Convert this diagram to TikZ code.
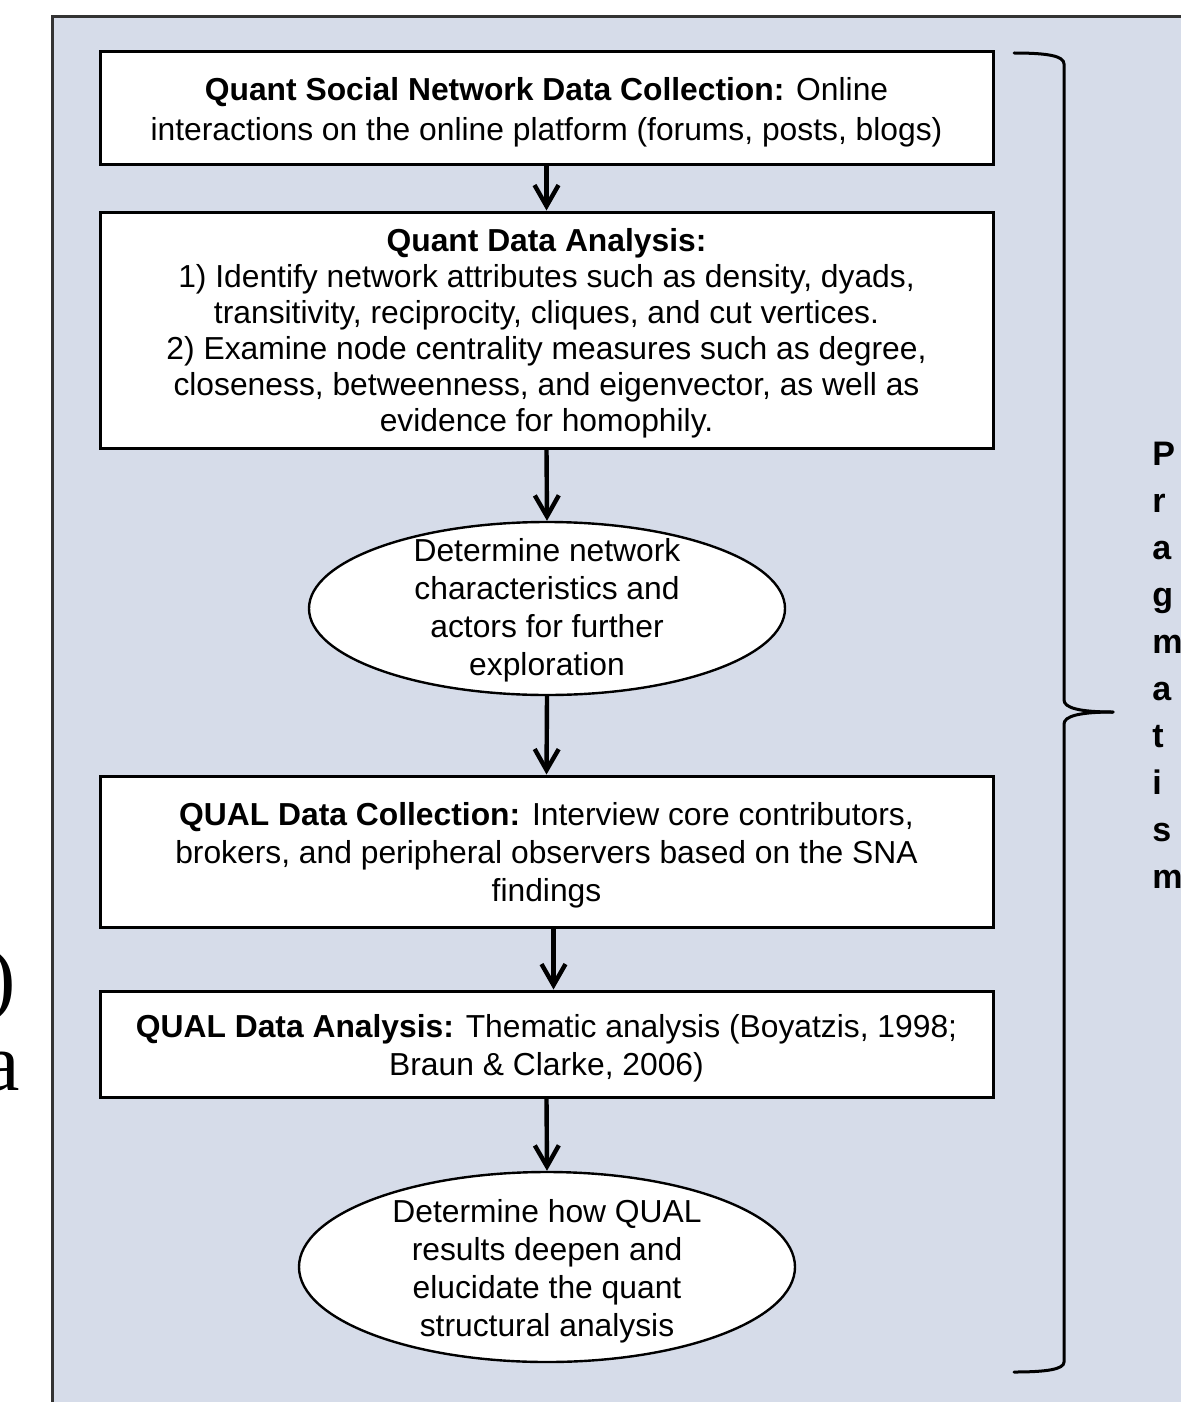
\documentclass[tikz,border=0pt]{standalone}
\usepackage{fontspec}
\setmainfont{Liberation Sans}
\newfontfamily\lserif{Liberation Serif}
\usetikzlibrary{shapes.geometric, arrows.meta}
\definecolor{panel}{RGB}{214,220,233}
\newcommand\ovaltext[2][-5.5pt]{\smash{\raisebox{#1}{\makebox[0pt]{\begin{tabular}{@{}c@{}}#2\end{tabular}}}}}
\newcommand\boxtext[1]{\smash{\raisebox{-6.7pt}{\makebox[0pt]{\begin{tabular}{@{}c@{}}#1\end{tabular}}}}}
\tikzset{
  stepbox/.style={draw=black, line width=1.5pt, fill=white, minimum width=446.5pt,
    inner sep=0pt, font=\fontsize{15.9}{19}\selectfont},
  oval/.style={ellipse, draw=black, line width=1.2pt, fill=white, inner sep=0pt,
    font=\fontsize{15.9}{19}\selectfont},
  flow/.style={line width=2.2pt, -{Straight Barb[length=10.5pt,width=12pt]}},
  bracepath/.style={line width=1.5pt, line cap=round},
}
\begin{document}
\begin{tikzpicture}[x=0.5pt,y=-0.5pt]
\useasboundingbox (0,0) rectangle (1180,1402);
% panel
\draw[draw=black!80, line width=1.5pt, fill=panel] (52,17) rectangle (1200,1420);
% left cut-off serif text
\node[anchor=base east, inner sep=0pt, font=\lserif\fontsize{41}{41}\selectfont] (lp) at (16,1005) {)};
\node[anchor=base east, inner sep=0pt, font=\lserif\fontsize{41}{41}\selectfont] (la) at (20,1090) {a};
% boxes
\node[stepbox, minimum height=56pt, font=\fontsize{15.9}{20}\selectfont] (b1) at (546.5,108)
  {\boxtext{\textbf{Quant Social Network Data Collection:} Online\\interactions on the online platform (forums, posts, blogs)}};
\node[stepbox, minimum height=118pt, font=\fontsize{15.9}{18}\selectfont] (b2) at (546.5,330)
  {\boxtext{\textbf{Quant Data Analysis:}\\1) Identify network attributes such as density, dyads,\\transitivity, reciprocity, cliques, and cut vertices.\\2) Examine node centrality measures such as degree,\\closeness, betweenness, and eigenvector, as well as\\evidence for homophily.}};
\node[oval, minimum width=238pt, minimum height=86.5pt] (e1) at (547,608.5)
  {\ovaltext{Determine network\\characteristics and\\actors for further\\exploration}};
\node[stepbox, minimum height=75.5pt] (b3) at (546.5,851.5)
  {\boxtext{\textbf{QUAL Data Collection:} Interview core contributors,\\brokers, and peripheral observers based on the SNA\\findings}};
\node[stepbox, minimum height=53pt] (b4) at (546.5,1044)
  {\boxtext{\textbf{QUAL Data Analysis:} Thematic analysis (Boyatzis, 1998;\\Braun \& Clarke, 2006)}};
\node[oval, minimum width=248pt, minimum height=95pt] (e2) at (547,1267)
  {\ovaltext[-7pt]{Determine how QUAL\\results deepen and\\elucidate the quant\\structural analysis}};
% connectors
\draw[flow] (b1.south) -- (b2.north);
\draw[flow] (b2.south) -- (e1.north);
\draw[flow] (e1.south) -- (b3.north);
\draw[flow] ([xshift=3.5pt]b3.south) -- ([xshift=3.5pt]b4.north);
\draw[flow] (b4.south) -- (e2.north);
% brace
\draw[bracepath] (1014,53) .. controls (1048,53) and (1064,56) .. (1064,64) -- (1064,700)
  .. controls (1064,708) and (1080,712) .. (1113,712);
\draw[bracepath] (1113,712) .. controls (1080,712) and (1064,716) .. (1064,724) -- (1064,1362)
  .. controls (1064,1369) and (1048,1372) .. (1014,1372);
% vertical label
\node[anchor=north west, inner sep=0pt, align=left, font=\bfseries\fontsize{17}{23.5}\selectfont] (prag) at (1152,442)
  {P\\r\\a\\g\\m\\a\\t\\i\\s\\m};
\end{tikzpicture}
\end{document}
